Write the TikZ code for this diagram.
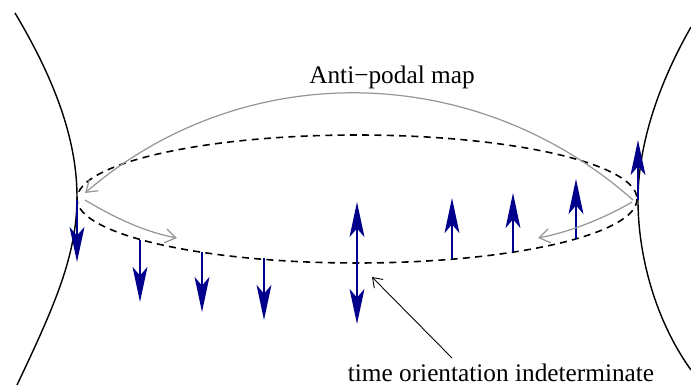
\documentclass[tikz,border=0pt]{standalone}
\usepackage{fontspec}
\setmainfont{Liberation Serif}
\usetikzlibrary{arrows.meta}
\definecolor{vecblue}{RGB}{0,0,140}
\definecolor{mapgray}{RGB}{150,150,150}
\tikzset{
  vhead/.tip={Stealth[length=20pt, width=8.5pt, inset=5pt]},
  mhead/.tip={Straight Barb[length=6pt, width=8pt]},
}

\begin{document}
\begin{tikzpicture}[x=0.02cm, y=-0.02cm, font=\fontsize{14.4}{17}\selectfont, >=Stealth,
  vec/.style={vecblue, line width=0.8pt},
  maparrow/.style={mapgray, line width=0.7pt, -mhead}]
  \clip (0,0) rectangle (691,385);
  % the two throats
  \draw[line width=0.8pt] (15,13) .. controls (55,80) and (77,140) .. (77,197)
        .. controls (77,255) and (55,305) .. (17,385);
  \draw[line width=0.8pt] (691,27) .. controls (655,90) and (638,150) .. (638,200)
        .. controls (638,255) and (655,320) .. (691,370);
  % identified circle
  \draw[line width=0.9pt, dash pattern=on 4pt off 3pt]
        (357,199) ellipse [x radius=280, y radius=64];
  \foreach \x/\ya/\yb [count=\i] in {77/200/262, 140/240/302, 202/252/312, 264/258/320,
                                     452/259/198, 513/252/193, 576/239/179, 638/200/140}{
    \coordinate (base\i) at (\x,\ya);
    \coordinate (tip\i) at (\x,\yb);
    \draw[vec, -vhead] (base\i) -- (tip\i);
  }
  \coordinate (up) at (357,202);
  \coordinate (down) at (357,324);
  \draw[vec, vhead-vhead] (down) -- (up);
  % anti-podal map
  \coordinate (rA) at (633,200);
  \coordinate (lA) at (85,193);
  \draw[maparrow] (rA) .. controls (476,61) and (244,56) .. (lA);
  \node (maplabel) at (392,77) {Anti−podal map};
  \coordinate (lB) at (85,200);
  \coordinate (lC) at (177,238);
  \draw[maparrow] (lB) .. controls (115,218) and (145,232) .. (lC);
  \coordinate (rB) at (632,202);
  \coordinate (rC) at (538,238);
  \draw[maparrow] (rB) .. controls (605,218) and (570,232) .. (rC);
  % label
  \node (note) at (501,373) {time orientation indeterminate};
  \coordinate (ptr) at (452,358);
  \coordinate (ptrtip) at (372,277);
  \draw[line width=0.5pt, -{Straight Barb[length=5pt, width=7pt]}] (ptr) -- (ptrtip);
\end{tikzpicture}
\end{document}
